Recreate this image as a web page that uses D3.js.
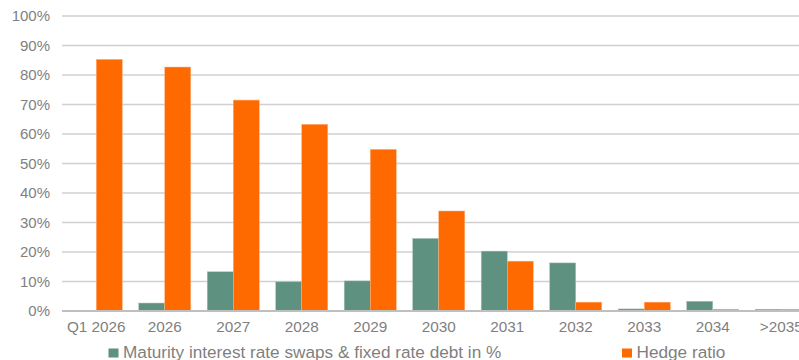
<!DOCTYPE html>
<html>
<head>
<meta charset="utf-8">
<script src="https://cdn.jsdelivr.net/npm/d3@7"></script>
<style>
  body { margin: 0; background: #fff; }
  svg { display: block; font-family: "Liberation Sans", Arial, sans-serif; }
</style>
</head>
<body>
<div id="rootDiv"></div>
<script>
const width = 799
const height = 360

const categories = ["Q1 2026", "2026", "2027", "2028", "2029", "2030", "2031", "2032", "2033", "2034", ">2035"]
const maturity = [0, 2.7, 13.3, 9.9, 10.2, 24.6, 20.3, 16.3, 0.7, 3.3, 0.6]
const hedgeRatio = [85.3, 82.7, 71.5, 63.3, 54.8, 33.9, 16.9, 3.0, 3.0, 0.6, 0.6]
const yTicks = [0, 10, 20, 30, 40, 50, 60, 70, 80, 90, 100]
const seriesNames = ["Maturity interest rate swaps & fixed rate debt in %", "Hedge ratio"]

const green = "#5f9180"
const orange = "#ff6a00"
const textGrey = "#7f7f7f"

const svg = d3.select("#rootDiv")
    .append("svg")
    .attr("width", width)
    .attr("height", height)

// plot runs past the right edge, same as the source image
const x0 = d3.scaleBand()
    .domain(categories)
    .range([62, 815.5])
    .paddingInner(0.24)
    .paddingOuter(0.12)

const x1 = d3.scaleBand()
    .domain([0, 1])
    .range([0, x0.bandwidth()])

const y = d3.scaleLinear()
    .domain([0, 100])
    .range([311, 16])

// grid
svg.append("g")
    .selectAll("line")
    .data(yTicks.filter(d => d > 0))
    .enter()
    .append("line")
    .attr("x1", 62)
    .attr("x2", width)
    .attr("y1", d => y(d))
    .attr("y2", d => y(d))
    .attr("stroke", "#d0d0d0")
    .attr("stroke-width", 1.4)

// y labels
svg.append("g")
    .selectAll("text")
    .data(yTicks)
    .enter()
    .append("text")
    .attr("x", 50)
    .attr("y", d => y(d))
    .attr("dy", "0.35em")
    .attr("text-anchor", "end")
    .attr("fill", textGrey)
    .style("font-size", "15px")
    .text(d => d + "%")

// bars
const groups = svg.append("g")
    .selectAll("g")
    .data(categories)
    .enter()
    .append("g")
    .attr("transform", d => `translate(${x0(d)},0)`)

const series = [maturity, hedgeRatio]
const colors = [green, orange]

series.forEach((vals, s) => {
    groups.append("rect")
        .attr("x", x1(s))
        .attr("width", x1.bandwidth())
        .attr("y", (d, i) => y(vals[i]))
        .attr("height", (d, i) => y(0) - y(vals[i]))
        .attr("fill", colors[s])
        .attr("stroke", s === 1 ? "#ffb27f" : "#a9c4ba")
        .attr("stroke-width", 0.5)
})

// baseline
svg.append("line")
    .attr("x1", 62)
    .attr("x2", width)
    .attr("y1", y(0))
    .attr("y2", y(0))
    .attr("stroke", "#bfbfbf")
    .attr("stroke-width", 2)

// x labels
svg.append("g")
    .selectAll("text")
    .data(categories)
    .enter()
    .append("text")
    .attr("x", d => x0(d) + x0.bandwidth() / 2)
    .attr("y", 331.7)
    .attr("text-anchor", "middle")
    .attr("fill", textGrey)
    .style("font-size", "15.3px")
    .text(d => d)

// legend
const legendX = [108.5, 622]
const legend = svg.append("g")
    .selectAll("g")
    .data(seriesNames)
    .enter()
    .append("g")
    .attr("transform", (d, i) => `translate(${legendX[i]},0)`)

legend.append("rect")
    .attr("y", 348.5)
    .attr("width", 10)
    .attr("height", 9)
    .attr("fill", (d, i) => colors[i])

legend.append("text")
    .attr("x", 14.5)
    .attr("y", 357.5)
    .attr("fill", textGrey)
    .style("font-size", "17.2px")
    .text(d => d)
</script>
</body>
</html>
